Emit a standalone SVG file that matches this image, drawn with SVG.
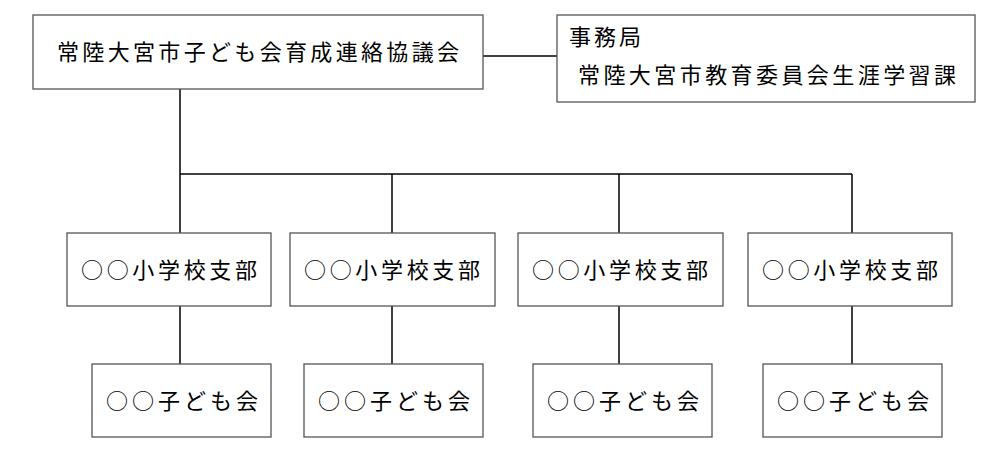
<svg xmlns="http://www.w3.org/2000/svg" width="1000" height="453" viewBox="0 0 1000 453">
<style>
rect{fill:#fff;stroke:#555;stroke-width:1.3}
line{stroke:#000;stroke-width:1.5}
text{font-family:"Noto Sans CJK JP",sans-serif;font-size:22px;fill:#000}
</style>
<rect x="0" y="0" width="1000" height="453" style="fill:#fff;stroke:none"/>
<g id="connectors">
<line x1="483" y1="56" x2="557" y2="56"/>
<line x1="180" y1="89" x2="180" y2="233"/>
<line x1="180" y1="174" x2="852" y2="174"/>
<line x1="392" y1="174" x2="392" y2="233"/>
<line x1="619" y1="174" x2="619" y2="233"/>
<line x1="852" y1="174" x2="852" y2="233"/>
<line x1="180" y1="306" x2="180" y2="364"/>
<line x1="392" y1="306" x2="392" y2="364"/>
<line x1="619" y1="306" x2="619" y2="364"/>
<line x1="852" y1="306" x2="852" y2="364"/>
</g>
<g id="top"><rect x="33" y="15" width="450" height="74"/><text x="57" y="60" textLength="402" lengthAdjust="spacing">常陸大宮市子ども会育成連絡協議会</text></g>
<g id="office"><rect x="557" y="15" width="418" height="87"/><text x="569" y="45" textLength="72" lengthAdjust="spacing">事務局</text><text x="578" y="83" textLength="378" lengthAdjust="spacing">常陸大宮市教育委員会生涯学習課</text></g>
<g id="b1"><rect x="67" y="233" width="204" height="73"/><text x="81" y="278" textLength="176" lengthAdjust="spacing">○○小学校支部</text></g>
<g id="b2"><rect x="290" y="233" width="205" height="73"/><text x="304" y="278" textLength="176" lengthAdjust="spacing">○○小学校支部</text></g>
<g id="b3"><rect x="518" y="233" width="205" height="73"/><text x="532" y="278" textLength="176" lengthAdjust="spacing">○○小学校支部</text></g>
<g id="b4"><rect x="748" y="233" width="204" height="73"/><text x="762" y="278" textLength="176" lengthAdjust="spacing">○○小学校支部</text></g>
<g id="c1"><rect x="92" y="364" width="179" height="73"/><text x="106" y="409" textLength="152" lengthAdjust="spacing">○○子ども会</text></g>
<g id="c2"><rect x="304" y="364" width="179" height="73"/><text x="318" y="409" textLength="152" lengthAdjust="spacing">○○子ども会</text></g>
<g id="c3"><rect x="533" y="364" width="179" height="73"/><text x="547" y="409" textLength="152" lengthAdjust="spacing">○○子ども会</text></g>
<g id="c4"><rect x="763" y="364" width="179" height="73"/><text x="777" y="409" textLength="152" lengthAdjust="spacing">○○子ども会</text></g>
</svg>
